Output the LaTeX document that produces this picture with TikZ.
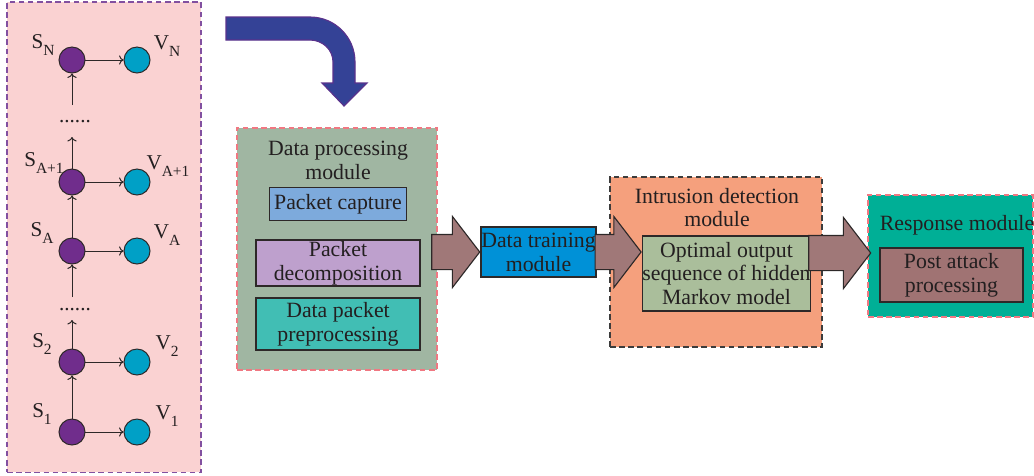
\documentclass[tikz,border=0pt]{standalone}
\usepackage{fontspec}
\setmainfont{Liberation Serif}
\usetikzlibrary{shapes.arrows, arrows.meta, positioning, calc}
\definecolor{panelpink}{RGB}{250,210,210}
\definecolor{panelpurple}{RGB}{130,80,160}
\definecolor{dashpink}{RGB}{240,120,130}
\definecolor{dashgray}{RGB}{60,60,60}
\definecolor{dpmgreen}{RGB}{160,182,162}
\definecolor{capblue}{RGB}{125,170,220}
\definecolor{decpurple}{RGB}{190,160,205}
\definecolor{prepteal}{RGB}{65,190,180}
\definecolor{trainblue}{RGB}{0,145,215}
\definecolor{idsalmon}{RGB}{245,160,125}
\definecolor{optgreen}{RGB}{170,190,155}
\definecolor{respteal}{RGB}{0,175,150}
\definecolor{postmauve}{RGB}{160,115,115}
\definecolor{arrowmauve}{RGB}{160,120,120}
\definecolor{bendblue}{RGB}{52,66,150}
\definecolor{bendedge}{RGB}{90,50,140}
\definecolor{statepurple}{RGB}{112,45,140}
\definecolor{obscyan}{RGB}{0,160,198}
\definecolor{boxedge}{RGB}{45,40,40}
\definecolor{txtgray}{RGB}{35,31,32}
\newcommand{\lowsub}[1]{\raisebox{-0.3em}{\fontsize{11}{11}\selectfont #1}}

\begin{document}
\begin{tikzpicture}[
      x=0.025cm, y=-0.025cm,
      font=\fontsize{15.5}{17}\selectfont, text=txtgray,
      module/.style={draw, dash pattern=on 4pt off 2.5pt, line width=0.8pt, inner sep=0pt},
      subbox/.style={draw=boxedge, line width=0.8pt, align=center, inner sep=0pt},
      blockarrow/.style={single arrow, draw=boxedge, fill=arrowmauve, line width=0.8pt,
                         single arrow head extend=0.45cm, single arrow tip angle=105,
                         inner xsep=0pt, inner ysep=0.425cm, anchor=tip},
      state/.style={circle, draw=boxedge, fill=statepurple, minimum size=0.65cm,
                    inner sep=0pt, line width=0.7pt},
      obs/.style={state, fill=obscyan},
      lbl/.style={font=\fontsize{15}{15}\selectfont},
      arrow/.style={->, line width=0.7pt, color=boxedge},
  ]
    \useasboundingbox (0,0) rectangle (1034,475);

    % hidden Markov chain panel
    \node[module, draw=panelpurple, fill=panelpink, minimum width=4.85cm, minimum height=11.75cm] (panel) at (104,237) {};
    \node[state] (sN) at (72,60) {};
    \node[state] (sB) at (72,182) {};
    \node[state] (sA) at (72,251) {};
    \node[state] (s2) at (72,362) {};
    \node[state] (s1) at (72,432) {};
    \foreach \i in {N,B,A,2,1}
      \node[obs] (v\i) at ($(s\i)+(65,0)$) {};

    \node[lbl] (sNlbl) at ($(sN)+(-29,-15)$) {S\lowsub{N}};
    \node[lbl] (vNlbl) at ($(vN)+(30,-14)$) {V\lowsub{N}};
    \node[lbl] (sBlbl) at ($(sB)+(-28,-19)$) {S\lowsub{A+1}};
    \node[lbl] (vBlbl) at ($(vB)+(31,-16)$) {V\lowsub{A+1}};
    \node[lbl] (sAlbl) at ($(sA)+(-30,-18)$) {S\lowsub{A}};
    \node[lbl] (vAlbl) at ($(vA)+(30,-16)$) {V\lowsub{A}};
    \node[lbl] (s2lbl) at ($(s2)+(-30,-18)$) {S\lowsub{2}};
    \node[lbl] (v2lbl) at ($(v2)+(30,-16)$) {V\lowsub{2}};
    \node[lbl] (s1lbl) at ($(s1)+(-30,-18)$) {S\lowsub{1}};
    \node[lbl] (v1lbl) at ($(v1)+(30,-16)$) {V\lowsub{1}};

    \node[lbl] (dotsup)  at (75,122) {......};
    \node[lbl] (dotslow) at (75,310) {......};

    \coordinate (upB)   at (72,137);
    \coordinate (fromN) at (72,105);
    \coordinate (up2)   at (72,320);
    \coordinate (fromA) at (72,297);

    \draw[arrow] (s1) -- (s2);
    \draw[arrow] (s2) -- (up2);
    \draw[arrow] (fromA) -- (sA);
    \draw[arrow] (sA) -- (sB);
    \draw[arrow] (sB) -- (upB);
    \draw[arrow] (fromN) -- (sN);
    \foreach \i in {N,B,A,2,1}
      \draw[arrow] (s\i) -- (v\i);

    % bent arrow
    \draw[fill=bendblue, draw=bendedge, line width=0.8pt]
      (226,17) -- (310,17) to[out=0, in=90] (355,62) -- (355,83) -- (367,83) -- (344,106)
      -- (322,83) -- (333,83) -- (333,62) to[out=90, in=0] (310,40) -- (226,40) -- cycle;

    % data processing
    \node[module, draw=dashpink, fill=dpmgreen, minimum width=5.0cm, minimum height=6.05cm] (dpm) at (337,249) {};
    \node[align=center] (dpmtitle) at (338,160) {Data processing\\module};
    \node[subbox, fill=capblue, minimum width=3.425cm, minimum height=0.825cm] (capture) at (338,204) {Packet capture};
    \node[subbox, fill=decpurple, minimum width=4.1cm, minimum height=1.15cm] (decomp) at (338,263) {Packet\\decomposition};
    \node[subbox, fill=prepteal, minimum width=4.1cm, minimum height=1.3cm] (prep) at (338,324) {Data packet\\preprocessing};

    % training
    \node[subbox, fill=trainblue, minimum width=2.875cm, minimum height=1.25cm] (train) at (538.5,252) {Data training\\module};

    % intrusion detection
    \node[module, draw=dashgray, fill=idsalmon, minimum width=5.3cm, minimum height=4.25cm] (ids) at (716,262) {};
    \node[align=center] (idstitle) at (717,207.5) {Intrusion detection\\module};
    \node[subbox, fill=optgreen, minimum width=4.025cm, minimum height=1.875cm] (optimal) at (726.5,273.5) {Optimal output\\sequence of hidden\\Markov model};

    % response
    \node[module, draw=dashpink, fill=respteal, minimum width=4.125cm, minimum height=3.05cm] (resp) at (950.5,256) {};
    \node (resptitle) at (957,225) {Response module};
    \node[subbox, fill=postmauve, minimum width=3.575cm, minimum height=1.35cm] (post) at (951.5,275) {Post attack\\processing};

    % block arrows
    \node[blockarrow, minimum height=1.2cm]  (arr1) at (train.west) {};
    \node[blockarrow, minimum height=1.15cm] (arr2) at (optimal.west |- train.west) {};
    \node[blockarrow, minimum height=1.55cm] (arr3) at ($(resp.west |- train.west)+(4,1)$) {};

  \end{tikzpicture}
\end{document}
